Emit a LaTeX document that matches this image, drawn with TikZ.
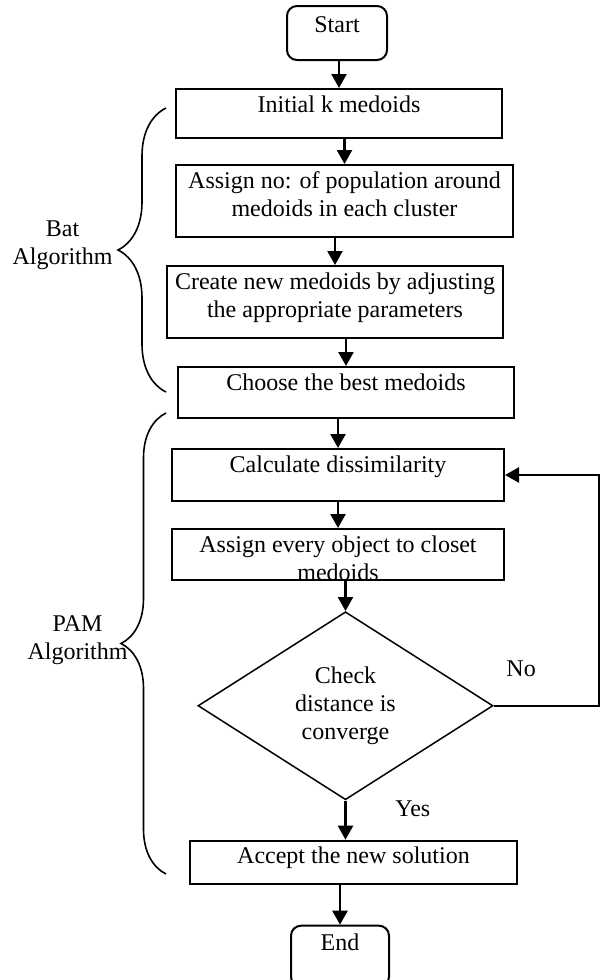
\documentclass[tikz,border=0pt]{standalone}
\usepackage{fontspec}
\setmainfont{Liberation Serif}
\usetikzlibrary{arrows.meta, positioning, shapes.geometric, decorations.pathreplacing}

\begin{document}
\begin{tikzpicture}[x=0.5pt, y=-0.5pt, font=\fontsize{12pt}{14pt}\selectfont,
        stepbox/.style={draw, rectangle, line width=1pt, align=center, inner ysep=2pt, text height=9.5pt},
        termbox/.style={stepbox, rounded corners=5pt},
        arr/.style={-{Triangle[length=7pt, width=7.5pt]}, line width=1.2pt},
        brc/.style={decorate, decoration={brace, amplitude=#1}, line width=0.8pt}]
        \useasboundingbox (0,0) rectangle (600,980);
        % Flowchart: Bat algorithm then PAM
        \node[termbox, minimum width=50pt, text height=11pt, text depth=12pt] (start) at (337,33) {Start};
        \node[stepbox, minimum width=163pt, text depth=11pt, below=13.5pt of start, xshift=1pt] (init) {Initial k medoids};
        \node[stepbox, minimum width=168.5pt, text height=23.5pt, text depth=8.5pt, below=12.5pt of init, xshift=2.75pt] (assign) {Assign no: of population around\\medoids in each cluster};
        \node[stepbox, minimum width=168pt, text height=23.5pt, text depth=8.5pt, below=13.5pt of assign, xshift=-4.75pt] (create) {Create new medoids by adjusting\\the appropriate parameters};
        \node[stepbox, minimum width=168pt, text depth=12pt, below=13.5pt of create, xshift=5.5pt] (best) {Choose the best medoids};
        \node[stepbox, minimum width=166pt, text depth=12.5pt, below=14.5pt of best, xshift=-4pt] (dissim) {Calculate dissimilarity};
        \node[stepbox, minimum width=166pt, inner ysep=0pt, text height=25.5pt, text depth=0pt, below=13pt of dissim] (closest) {Assign every object to closet\\medoids};
        \node[draw, diamond, line width=0.75pt, minimum width=147.5pt, minimum height=94pt, inner sep=0pt, align=center, below=15pt of closest, xshift=3.75pt] (conv) {Check\\distance is\\converge};
        \node[stepbox, minimum width=163.5pt, text depth=8pt, below=19.6pt of conv, xshift=4pt] (accept) {Accept the new solution};
        \node[termbox, minimum width=49pt, text height=10.5pt, text depth=16pt, below=20pt of accept, xshift=-6.75pt] (stop) {End};
        \coordinate (loop) at (599,0);

        \draw[arr] (start.south -| init) -- (init);
        \draw[arr] (init.south -| assign) -- (assign);
        \draw[arr] (assign.south -| create) -- (create);
        \draw[arr] (create.south -| best) -- (best);
        \draw[arr] (best.south -| dissim) -- (dissim);
        \draw[arr] (dissim.south -| closest) -- (closest);
        \draw[arr] (closest.south -| conv.north) -- (conv.north);
        \draw[arr] (conv.south) -- node[pos=0.22, right=21pt] {Yes} (conv.south |- accept.north);
        \draw[arr] (accept.south -| stop) -- (stop);
        \draw[arr] (conv.east) -- node[pos=0.26, above=10.5pt] {No} (conv.east -| loop) |- (dissim.east);

        \draw[brc=24pt] (166,392) -- node[pos=0.518, left=23pt, align=center] (bat) {Bat\\Algorithm} (166,108);
        \draw[brc=22.5pt] (166,874) -- node[pos=0.508, left=15.5pt, align=center] (pam) {PAM\\Algorithm} (166,413);
    \end{tikzpicture}
\end{document}
